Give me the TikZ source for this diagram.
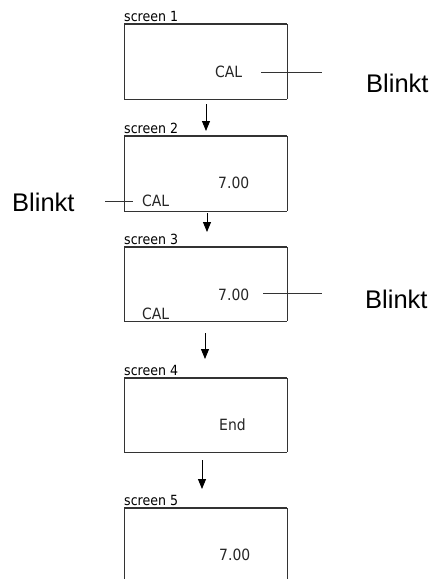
\documentclass[tikz,border=0pt]{standalone}
\usepackage{fontspec}
\setmainfont{DejaVu Sans Condensed}
\newfontfamily\blinkfont{Liberation Sans}
\usetikzlibrary{arrows.meta}
\definecolor{boxline}{HTML}{333333}
\tikzset{
  screenbox/.style={draw=none, inner sep=0pt, minimum width=163pt, minimum height=75pt, anchor=north west},
  hedge/.style={draw=boxline, line width=1.8pt},
  vedge/.style={draw=boxline, line width=1pt},
  scrlabel/.style={font=\fontsize{14}{14}\selectfont, anchor=base west, inner sep=0pt, text=black},
  disp/.style={font=\fontsize{15.5}{15.5}\selectfont, anchor=base west, inner sep=0pt, text=black!85},
  blinklabel/.style={font=\blinkfont\fontsize{25.5}{25.5}\selectfont, anchor=base west, inner sep=0pt, text=black},
  leader/.style={draw=black!80, line width=0.7pt},
  flow/.style={draw=black, line width=0.9pt, -{Triangle[length=10pt,width=8pt]}}
}
\begin{document}
\begin{tikzpicture}[x=1pt,y=-1pt]
\useasboundingbox (0,0) rectangle (434,579);
\fill[white] (0,0) rectangle (434,579);
% boxes
\node[screenbox] (b1) at (124,24) {};
\node[screenbox] (b2) at (124,136) {};
\node[screenbox, minimum height=74pt] (b3) at (124,247) {};
\node[screenbox, minimum height=74pt] (b4) at (124,378) {};
\node[screenbox, minimum height=75pt] (b5) at (124,508) {};
\foreach \b in {b1,b2,b3,b4}{
  \draw[vedge] (\b.north west) -- (\b.south west);
  \draw[vedge] (\b.north east) -- (\b.south east);
  \draw[hedge] (\b.north west) -- (\b.north east);
  \draw[hedge] (\b.south west) -- (\b.south east);
}
\draw[vedge] (b5.south west) -- (b5.north west);
\draw[hedge] (b5.north west) -- (b5.north east);
\draw[vedge] (b5.north east) -- (b5.south east);
% labels
\node[scrlabel] (l1) at (124,21) {screen 1};
\node[scrlabel] (l2) at (124,133) {screen 2};
\node[scrlabel] (l3) at (124,244) {screen 3};
\node[scrlabel] (l4) at (124,375) {screen 4};
\node[scrlabel] (l5) at (124,505) {screen 5};
% display texts
\node[disp] (c1) at (215,77.5) {CAL};
\node[disp] (v2) at (218,188) {7.00};
\node[disp] (c2) at (142,206) {CAL};
\node[disp] (v3) at (218,300) {7.00};
\node[disp] (c3) at (142,319) {CAL};
\node[disp] (e4) at (219,430) {End};
\node[disp] (v5) at (219,560) {7.00};
% blink labels
\node[blinklabel] (k1) at (366,92) {Blinkt};
\node[blinklabel] (k2) at (12,211) {Blinkt};
\node[blinklabel] (k3) at (365,308) {Blinkt};
% leader lines
\coordinate (p1a) at (261,72); \coordinate (p1b) at (322,72);
\coordinate (p2a) at (105,201); \coordinate (p2b) at (133,201);
\coordinate (p3a) at (263,293); \coordinate (p3b) at (322,293);
\draw[leader] (p1a) -- (p1b);
\draw[leader] (p2a) -- (p2b);
\draw[leader] (p3a) -- (p3b);
% arrows
\coordinate (a1s) at (206,104); \coordinate (a1e) at (206,131);
\coordinate (a2s) at (207,213); \coordinate (a2e) at (207,232);
\coordinate (a3s) at (205,333); \coordinate (a3e) at (205,359);
\coordinate (a4s) at (202,460); \coordinate (a4e) at (202,489);
\draw[flow] (a1s) -- (a1e);
\draw[flow] (a2s) -- (a2e);
\draw[flow] (a3s) -- (a3e);
\draw[flow] (a4s) -- (a4e);
\end{tikzpicture}
\end{document}
